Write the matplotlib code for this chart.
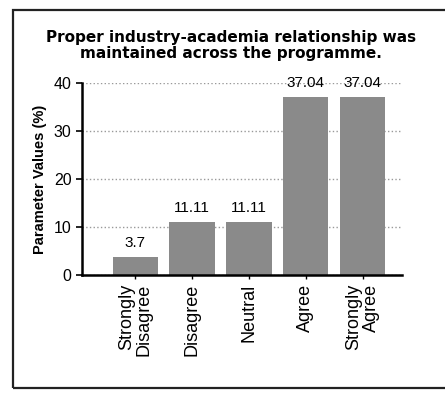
import matplotlib.pyplot as plt
from matplotlib.patches import Rectangle

categories = ['Strongly\nDisagree', 'Disagree', 'Neutral', 'Agree', 'Strongly\nAgree']
values = [3.7, 11.11, 11.11, 37.04, 37.04]
labels = ['3.7', '11.11', '11.11', '37.04', '37.04']

plt.rcParams['font.family'] = ['Liberation Sans', 'DejaVu Sans']

fig = plt.figure(figsize=(4.45, 3.94), dpi=100)
ax = fig.add_axes([0.184, 0.302, 0.72, 0.487])

x = range(len(values))
ax.bar(x, values, width=0.8, color='#8a8a8a', zorder=2)
for i, v in enumerate(values):
    ax.annotate(labels[i], (i, v), xytext=(0, 5), textcoords='offset points',
                ha='center', va='bottom', fontsize=11)

ax.set_xlim(-0.94, 4.7)
ax.set_ylim(0, 40)
ax.set_yticks([0, 10, 20, 30, 40])
ax.set_xticks(list(x))
ax.set_xticklabels(categories, rotation=90, fontsize=13, multialignment='right',
                   linespacing=1.0)
ax.tick_params(axis='y', labelsize=11.5, length=4, width=1.2)
ax.tick_params(axis='x', length=3, width=1)
ax.grid(axis='y', color='#999999', linestyle=':', linewidth=1, zorder=0)

ax.spines['top'].set_visible(False)
ax.spines['right'].set_visible(False)
ax.spines['left'].set_linewidth(1.8)
ax.spines['bottom'].set_linewidth(1.8)

ax.set_ylabel('Parameter Values (%)', fontsize=10.5, fontweight='bold', labelpad=5)

fig.text(0.52, 0.884, 'Proper industry-academia relationship was\nmaintained across the programme.',
         ha='center', va='center', fontsize=11, fontweight='bold', family='DejaVu Sans',
         linespacing=1.05)

# outer box
fig.patches.append(Rectangle((0.03, 0.015), 1.0, 0.96, transform=fig.transFigure,
                             fill=False, edgecolor='#222222', linewidth=1.6))

fig.savefig('out.png', dpi=100)
